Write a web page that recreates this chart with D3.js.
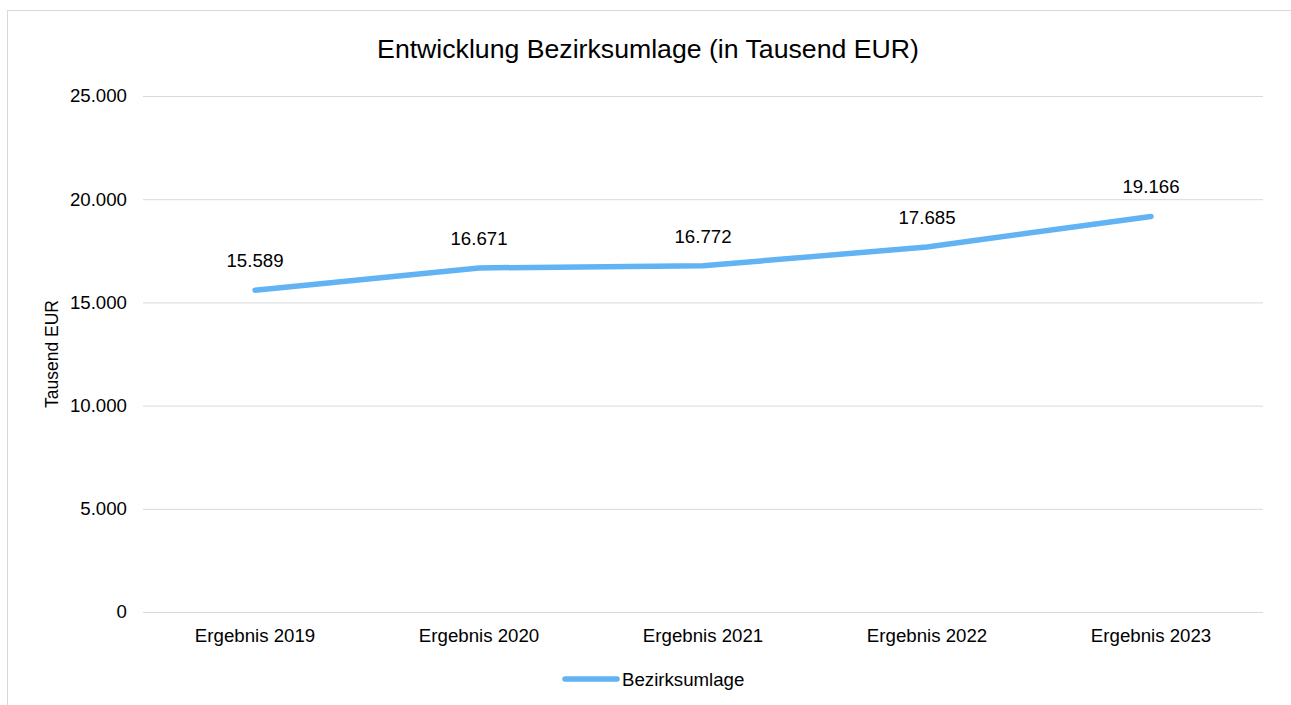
<!DOCTYPE html>
<html><head><meta charset="utf-8">
<script src="https://cdn.jsdelivr.net/npm/d3@7"></script>
<style>body{margin:0;background:#fff;}svg{display:block;font-family:"Liberation Sans",Arial,sans-serif;}</style>
</head><body>
<svg id="c" width="1291" height="705"></svg>
<script>
const categories = ["Ergebnis 2019","Ergebnis 2020","Ergebnis 2021","Ergebnis 2022","Ergebnis 2023"];
const values = [15589, 16671, 16772, 17685, 19166];
const valueLabels = ["15.589","16.671","16.772","17.685","19.166"];
const yTicks = [0, 5000, 10000, 15000, 20000, 25000];
const seriesName = "Bezirksumlage";

(function(){
const svg = d3.select("#c");
const FONT = "Liberation Sans, Arial, sans-serif";
svg.append("rect").attr("x",7.5).attr("y",10.5).attr("width",1300).attr("height",720)
  .attr("fill","#fff").attr("stroke","#d9d9d9").attr("stroke-width",1);

const pL = 143, pR = 1263, pT = 96, pB = 612;
const x = d3.scaleBand().domain(categories).range([pL, pR]);
const y = d3.scaleLinear().domain([0, 25000]).range([pB, pT]);
const fmt = v => d3.format(",")(v).replace(/,/g, ".");

svg.append("text").attr("x",648).attr("y",58).attr("text-anchor","middle")
  .attr("font-size","26.67px").attr("fill","#000").text("Entwicklung Bezirksumlage (in Tausend EUR)");

const yAxis = d3.axisLeft(y).tickValues(yTicks).tickSize(-(pR-pL)).tickFormat(fmt).tickPadding(16);
const gy = svg.append("g").attr("transform",`translate(${pL},0)`).call(yAxis);
gy.select(".domain").remove();
gy.selectAll(".tick line").attr("stroke","#d9d9d9").attr("stroke-width",1);
gy.selectAll(".tick text").attr("font-size","18.67px").attr("fill","#000").attr("font-family",FONT);

const xAxis = d3.axisBottom(x).tickSize(0).tickPadding(17);
const gx = svg.append("g").attr("transform",`translate(0,${pB})`).call(xAxis);
gx.select(".domain").remove();
gx.selectAll(".tick text").attr("font-size","18.67px").attr("fill","#000").attr("font-family",FONT);

svg.append("text").attr("transform",`translate(58,${(pT+pB)/2}) rotate(-90)`)
  .attr("text-anchor","middle").attr("font-size","17.5px").text("Tausend EUR");

const pts = categories.map((c,i)=>[x(c)+x.bandwidth()/2, y(values[i])]);
const line = d3.line().curve(d3.curveLinear);
svg.append("path").attr("d", line(pts)).attr("fill","none").attr("stroke","#62b3f4")
  .attr("stroke-width",5.5).attr("stroke-linecap","round").attr("stroke-linejoin","round");

svg.selectAll(".lbl").data(pts).enter().append("text").attr("class","lbl")
  .attr("x",d=>d[0]).attr("y",d=>d[1]-23).attr("text-anchor","middle")
  .attr("font-size","18.67px").text((d,i)=>valueLabels[i]);

svg.append("line").attr("x1",565).attr("x2",617).attr("y1",679).attr("y2",679)
  .attr("stroke","#62b3f4").attr("stroke-width",5.5).attr("stroke-linecap","round");
svg.append("text").attr("x",622).attr("y",686).attr("font-size","18.67px").text(seriesName);
})();
</script>
</body></html>
